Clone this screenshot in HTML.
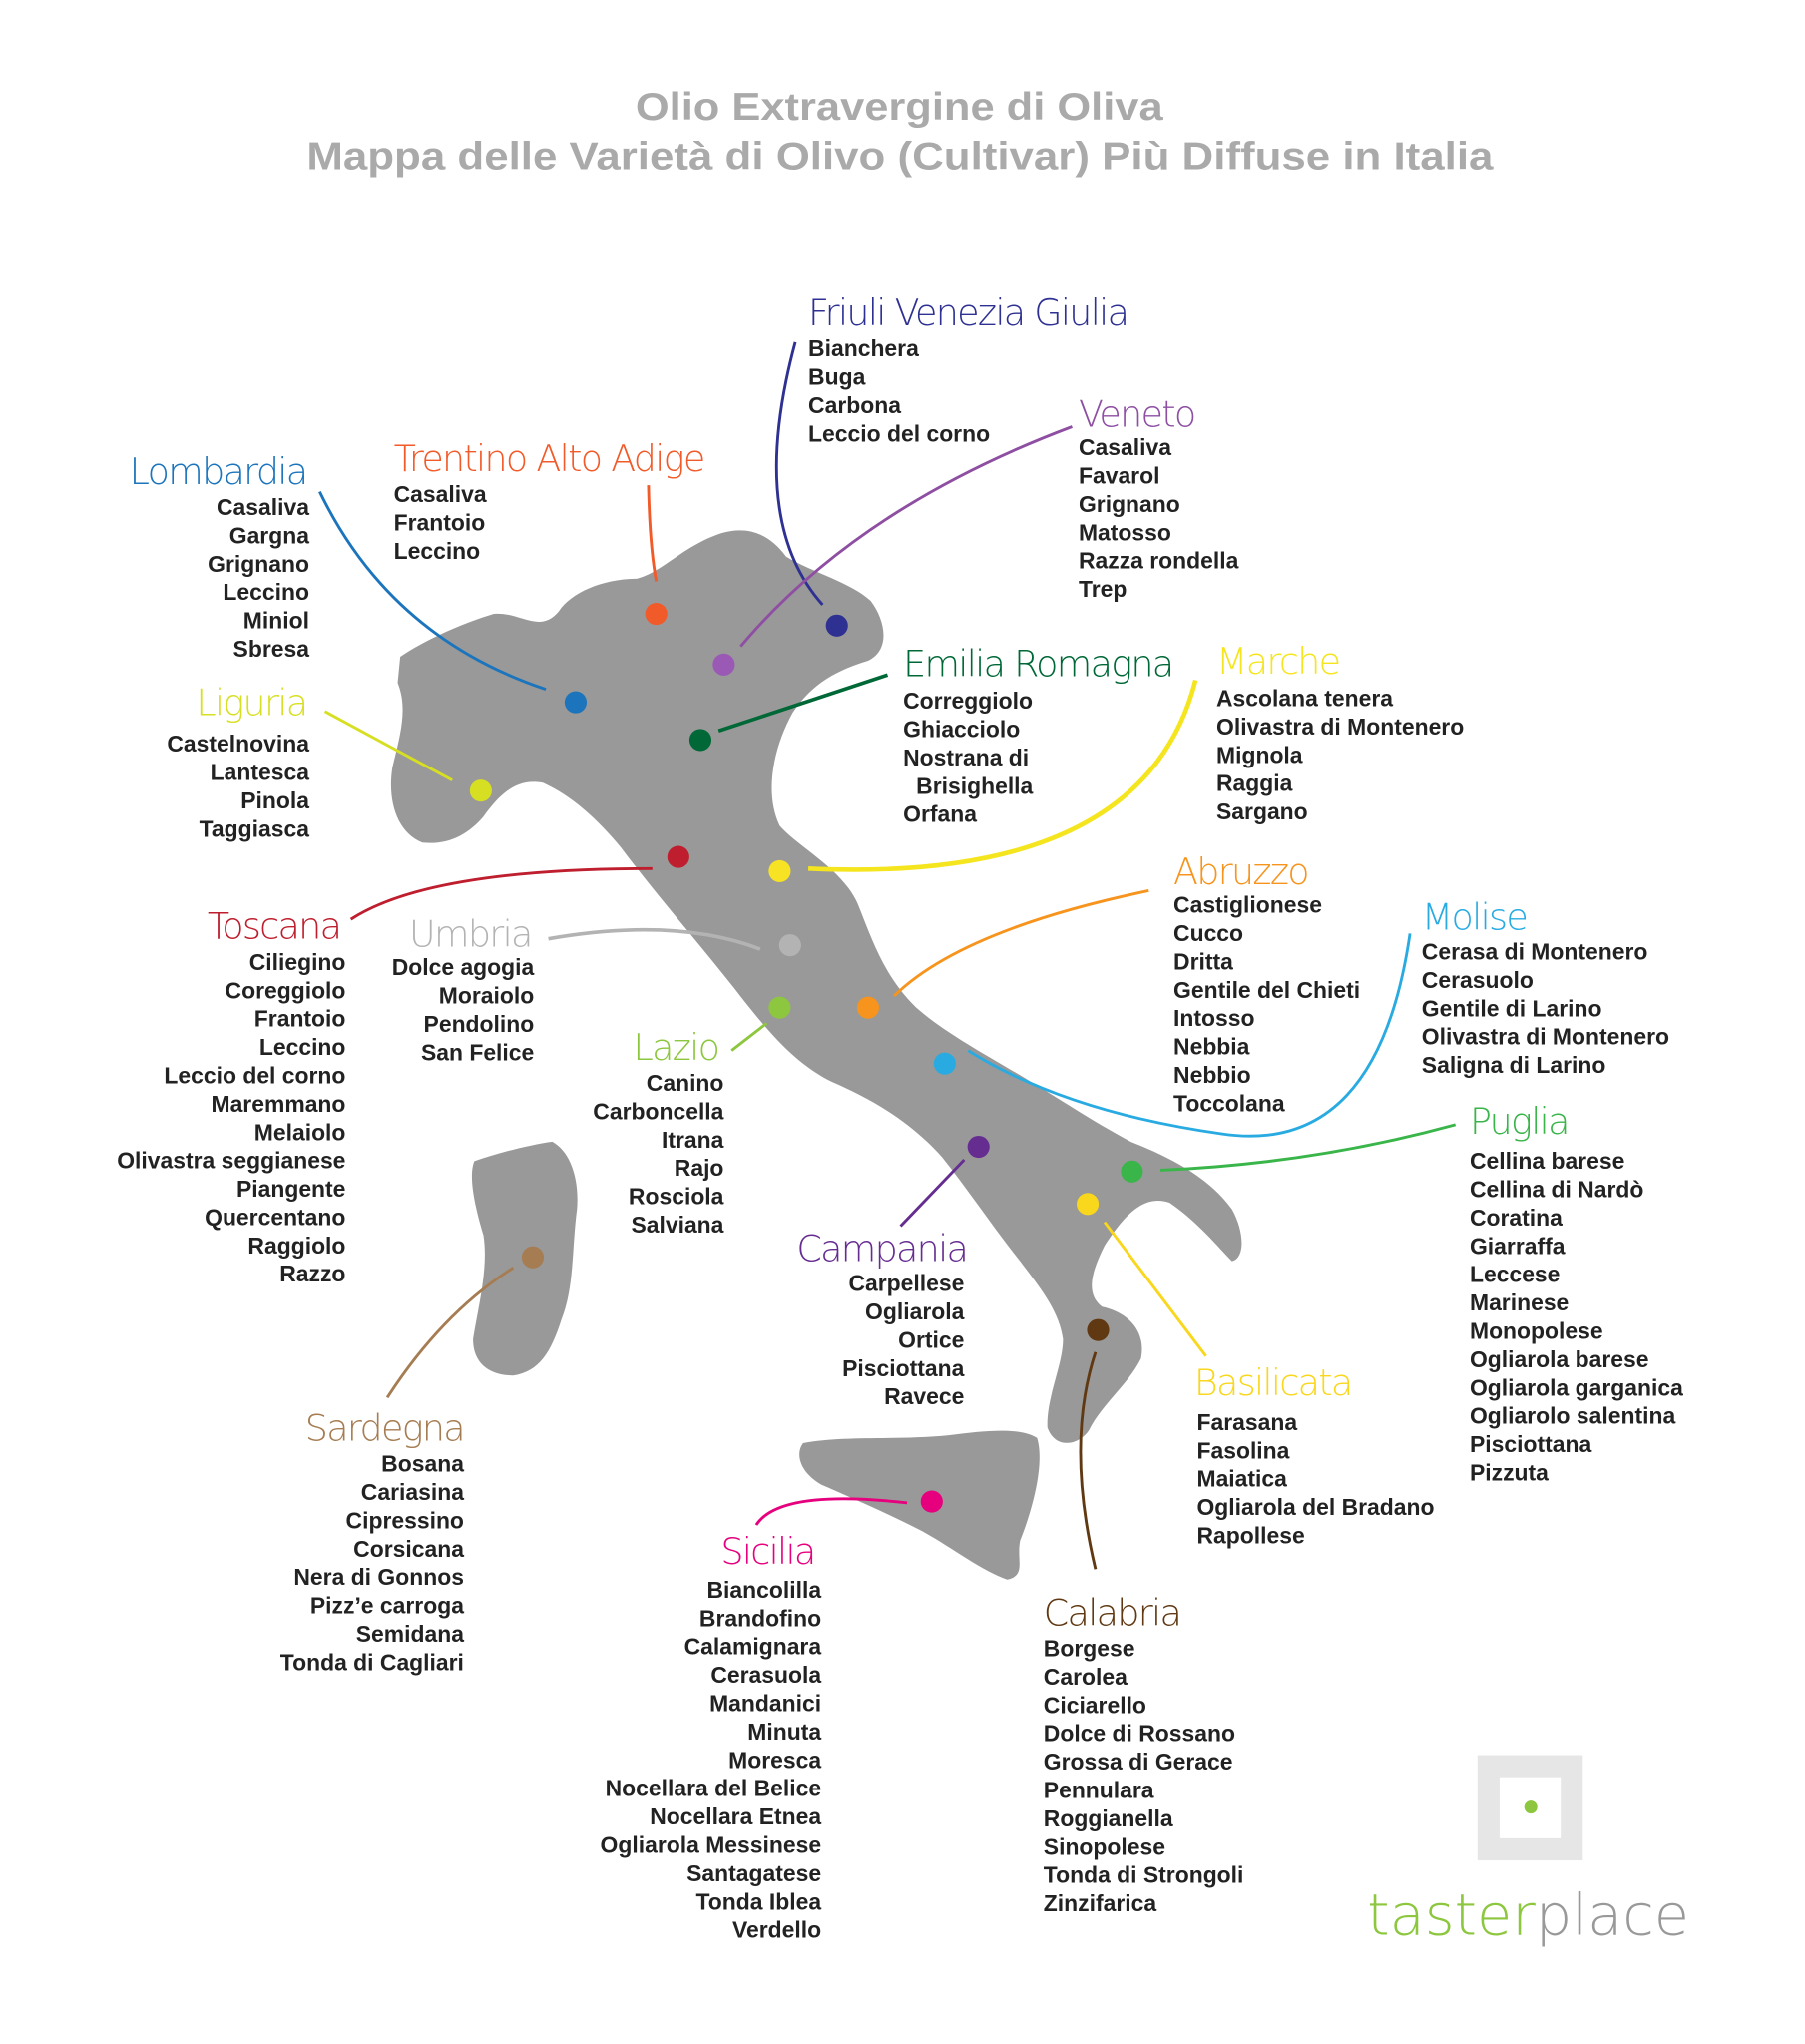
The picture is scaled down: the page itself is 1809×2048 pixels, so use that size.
<!DOCTYPE html>
<html><head><meta charset="utf-8"><style>
html,body{margin:0;padding:0;background:#fff;width:1809px;height:2048px;overflow:hidden}
svg{display:block}
.t{font-family:"Liberation Sans",sans-serif;font-weight:bold;font-size:17.6px;fill:#222}
.h{font-family:"DejaVu Sans","Liberation Sans",sans-serif;font-weight:200;font-size:28px;letter-spacing:-1.3px}
.ti{font-family:"Liberation Sans",sans-serif;font-weight:bold;font-size:30px;fill:#aaaaaa}
.r{text-anchor:end}
</style></head><body>
<svg width="1809" height="2048" viewBox="0 0 1389 1572" xmlns="http://www.w3.org/2000/svg">
<text class="ti" x="489" y="92" textLength="406" lengthAdjust="spacingAndGlyphs">Olio Extravergine di Oliva</text>
<text class="ti" x="236" y="130" textLength="913" lengthAdjust="spacingAndGlyphs">Mappa delle Varietà di Olivo (Cultivar) Più Diffuse in Italia</text>

<g fill="#999999">
<path d="M308,505 C330,490 360,478 380,472 C400,470 415,488 430,470 C440,455 465,445 490,445 C510,440 525,420 555,410 C575,404 592,410 605,428 C625,440 655,448 670,462 C682,478 685,500 668,508 C645,515 625,525 610,548 C595,575 588,610 600,635 C615,652 648,668 660,695 C672,725 680,750 705,775 C728,795 760,812 790,830 C815,845 840,862 870,878 C900,890 930,905 948,930 C958,948 958,968 948,970 C938,960 922,940 900,925 C880,918 865,935 850,958 C840,978 835,995 848,1005 C870,1010 882,1025 878,1045 C868,1065 848,1080 838,1100 C830,1112 812,1115 806,1098 C805,1075 818,1050 818,1030 C815,1008 800,990 785,970 C765,945 745,915 725,890 C700,862 670,845 640,832 C612,818 592,795 565,760 C535,722 505,688 478,652 C460,630 440,612 418,602 C398,598 385,610 372,628 C360,642 345,650 325,648 C305,640 298,615 302,590 C308,565 314,545 306,525 Z"/>
<path d="M365,893 C385,886 410,880 425,878 C438,885 446,905 444,930 C440,960 442,990 432,1015 C424,1040 415,1055 395,1058 C378,1058 364,1050 364,1030 C368,1005 376,975 372,950 C366,930 360,905 365,893 Z"/>
<path d="M618,1110 C650,1104 690,1108 730,1104 C760,1100 785,1098 798,1106 C804,1125 795,1160 785,1185 C782,1200 790,1212 775,1215 C755,1208 735,1192 710,1178 C685,1165 655,1152 632,1142 C615,1132 612,1118 618,1110 Z"/>
</g>

<g fill="none" stroke-width="2.2">
<path d="M246,378 Q300,490 420,530" stroke="#1c75bc"/>
<path d="M499,373 Q500,420 505,447" stroke="#f15a29"/>
<path d="M612,263 Q575,400 633,465" stroke="#2e3192"/>
<path d="M825,328 Q660,390 570,497" stroke="#8e4fa3"/>
<path d="M683,519 L553,562" stroke="#006837" stroke-width="2.8"/>
<path d="M250,547 L348,600" stroke="#d7df23"/>
<path d="M920,523 Q880,680 622,668" stroke="#f5e51e" stroke-width="3.5"/>
<path d="M270,707 Q330,668 502,668" stroke="#be1e2d"/>
<path d="M422,722 Q520,705 585,730" stroke="#b3b3b3" stroke-width="2.8"/>
<path d="M563,808 L590,787" stroke="#8dc63f"/>
<path d="M884,685 Q740,715 688,766" stroke="#f7941d"/>
<path d="M1085,718 Q1060,890 940,872 Q820,855 745,808" stroke="#29abe2"/>
<path d="M693,943 L742,892" stroke="#662d91"/>
<path d="M1120,865 Q1010,895 893,900" stroke="#39b54a"/>
<path d="M928,1043 L850,940" stroke="#f9d71c"/>
<path d="M843,1040 Q820,1110 843,1207" stroke="#603913"/>
<path d="M298,1075 Q340,1010 395,975" stroke="#a67c52"/>
<path d="M582,1173 Q600,1145 698,1156" stroke="#e6007e"/>
</g>

<g>
<circle cx="505" cy="472" r="8.5" fill="#f15a29"/>
<circle cx="644" cy="481" r="8.5" fill="#2e3192"/>
<circle cx="557" cy="511" r="8.5" fill="#9b59b6"/>
<circle cx="443" cy="540" r="8.5" fill="#1c75bc"/>
<circle cx="539" cy="569" r="8.5" fill="#006837"/>
<circle cx="370" cy="608" r="8.5" fill="#d7df23"/>
<circle cx="522" cy="659" r="8.5" fill="#be1e2d"/>
<circle cx="600" cy="670" r="8.5" fill="#f7e324"/>
<circle cx="608" cy="727" r="8.5" fill="#b3b3b3"/>
<circle cx="600" cy="775" r="8.5" fill="#8dc63f"/>
<circle cx="668" cy="775" r="8.5" fill="#f7941d"/>
<circle cx="727" cy="818" r="8.5" fill="#29abe2"/>
<circle cx="753" cy="882" r="8.5" fill="#662d91"/>
<circle cx="871" cy="901" r="8.5" fill="#39b54a"/>
<circle cx="837" cy="926" r="8.5" fill="#f9d71c"/>
<circle cx="845" cy="1023" r="8.5" fill="#603913"/>
<circle cx="410" cy="967" r="8.5" fill="#a67c52"/>
<circle cx="717" cy="1155" r="8.5" fill="#e6007e"/>
</g>

<!-- headings -->
<text class="h r" x="236" y="372" fill="#1c75bc">Lombardia</text>
<text class="h" x="303" y="362" fill="#f15a29">Trentino Alto Adige</text>
<text class="h" x="622" y="250" fill="#2e3192">Friuli Venezia Giulia</text>
<text class="h" x="830" y="328" fill="#8e4fa3">Veneto</text>
<text class="h" x="695" y="520" fill="#006837">Emilia Romagna</text>
<text class="h" x="936" y="518" fill="#f5e51e">Marche</text>
<text class="h r" x="236" y="550" fill="#d7df23">Liguria</text>
<text class="h r" x="262" y="722" fill="#be1e2d">Toscana</text>
<text class="h r" x="409" y="728" fill="#b3b3b3">Umbria</text>
<text class="h r" x="553" y="815" fill="#8dc63f">Lazio</text>
<text class="h" x="903" y="680" fill="#f7941d">Abruzzo</text>
<text class="h" x="1094" y="715" fill="#29abe2">Molise</text>
<text class="h" x="613" y="970" fill="#662d91">Campania</text>
<text class="h" x="1131" y="872" fill="#39b54a">Puglia</text>
<text class="h" x="919" y="1073" fill="#f9d71c">Basilicata</text>
<text class="h r" x="357" y="1108" fill="#a67c52">Sardegna</text>
<text class="h r" x="627" y="1203" fill="#e6007e">Sicilia</text>
<text class="h" x="803" y="1250" fill="#603913">Calabria</text>

<!-- lists -->
<text class="t r"><tspan x="238" y="396">Casaliva</tspan><tspan x="238" dy="21.8">Gargna</tspan><tspan x="238" dy="21.8">Grignano</tspan><tspan x="238" dy="21.8">Leccino</tspan><tspan x="238" dy="21.8">Miniol</tspan><tspan x="238" dy="21.8">Sbresa</tspan></text>
<text class="t"><tspan x="303" y="386">Casaliva</tspan><tspan x="303" dy="21.8">Frantoio</tspan><tspan x="303" dy="21.8">Leccino</tspan></text>
<text class="t"><tspan x="622" y="274">Bianchera</tspan><tspan x="622" dy="21.8">Buga</tspan><tspan x="622" dy="21.8">Carbona</tspan><tspan x="622" dy="21.8">Leccio del corno</tspan></text>
<text class="t"><tspan x="830" y="350">Casaliva</tspan><tspan x="830" dy="21.8">Favarol</tspan><tspan x="830" dy="21.8">Grignano</tspan><tspan x="830" dy="21.8">Matosso</tspan><tspan x="830" dy="21.8">Razza rondella</tspan><tspan x="830" dy="21.8">Trep</tspan></text>
<text class="t"><tspan x="695" y="545">Correggiolo</tspan><tspan x="695" dy="21.8">Ghiacciolo</tspan><tspan x="695" dy="21.8">Nostrana di</tspan><tspan x="705" dy="21.8">Brisighella</tspan><tspan x="695" dy="21.8">Orfana</tspan></text>
<text class="t"><tspan x="936" y="543">Ascolana tenera</tspan><tspan x="936" dy="21.8">Olivastra di Montenero</tspan><tspan x="936" dy="21.8">Mignola</tspan><tspan x="936" dy="21.8">Raggia</tspan><tspan x="936" dy="21.8">Sargano</tspan></text>
<text class="t r"><tspan x="238" y="578">Castelnovina</tspan><tspan x="238" dy="21.8">Lantesca</tspan><tspan x="238" dy="21.8">Pinola</tspan><tspan x="238" dy="21.8">Taggiasca</tspan></text>
<text class="t r"><tspan x="266" y="746">Ciliegino</tspan><tspan x="266" dy="21.8">Coreggiolo</tspan><tspan x="266" dy="21.8">Frantoio</tspan><tspan x="266" dy="21.8">Leccino</tspan><tspan x="266" dy="21.8">Leccio del corno</tspan><tspan x="266" dy="21.8">Maremmano</tspan><tspan x="266" dy="21.8">Melaiolo</tspan><tspan x="266" dy="21.8">Olivastra seggianese</tspan><tspan x="266" dy="21.8">Piangente</tspan><tspan x="266" dy="21.8">Quercentano</tspan><tspan x="266" dy="21.8">Raggiolo</tspan><tspan x="266" dy="21.8">Razzo</tspan></text>
<text class="t r"><tspan x="411" y="750">Dolce agogia</tspan><tspan x="411" dy="21.8">Moraiolo</tspan><tspan x="411" dy="21.8">Pendolino</tspan><tspan x="411" dy="21.8">San Felice</tspan></text>
<text class="t r"><tspan x="557" y="839">Canino</tspan><tspan x="557" dy="21.8">Carboncella</tspan><tspan x="557" dy="21.8">Itrana</tspan><tspan x="557" dy="21.8">Rajo</tspan><tspan x="557" dy="21.8">Rosciola</tspan><tspan x="557" dy="21.8">Salviana</tspan></text>
<text class="t"><tspan x="903" y="702">Castiglionese</tspan><tspan x="903" dy="21.8">Cucco</tspan><tspan x="903" dy="21.8">Dritta</tspan><tspan x="903" dy="21.8">Gentile del Chieti</tspan><tspan x="903" dy="21.8">Intosso</tspan><tspan x="903" dy="21.8">Nebbia</tspan><tspan x="903" dy="21.8">Nebbio</tspan><tspan x="903" dy="21.8">Toccolana</tspan></text>
<text class="t"><tspan x="1094" y="738">Cerasa di Montenero</tspan><tspan x="1094" dy="21.8">Cerasuolo</tspan><tspan x="1094" dy="21.8">Gentile di Larino</tspan><tspan x="1094" dy="21.8">Olivastra di Montenero</tspan><tspan x="1094" dy="21.8">Saligna di Larino</tspan></text>
<text class="t r"><tspan x="742" y="993">Carpellese</tspan><tspan x="742" dy="21.8">Ogliarola</tspan><tspan x="742" dy="21.8">Ortice</tspan><tspan x="742" dy="21.8">Pisciottana</tspan><tspan x="742" dy="21.8">Ravece</tspan></text>
<text class="t"><tspan x="1131" y="899">Cellina barese</tspan><tspan x="1131" dy="21.8">Cellina di Nardò</tspan><tspan x="1131" dy="21.8">Coratina</tspan><tspan x="1131" dy="21.8">Giarraffa</tspan><tspan x="1131" dy="21.8">Leccese</tspan><tspan x="1131" dy="21.8">Marinese</tspan><tspan x="1131" dy="21.8">Monopolese</tspan><tspan x="1131" dy="21.8">Ogliarola barese</tspan><tspan x="1131" dy="21.8">Ogliarola garganica</tspan><tspan x="1131" dy="21.8">Ogliarolo salentina</tspan><tspan x="1131" dy="21.8">Pisciottana</tspan><tspan x="1131" dy="21.8">Pizzuta</tspan></text>
<text class="t"><tspan x="921" y="1100">Farasana</tspan><tspan x="921" dy="21.8">Fasolina</tspan><tspan x="921" dy="21.8">Maiatica</tspan><tspan x="921" dy="21.8">Ogliarola del Bradano</tspan><tspan x="921" dy="21.8">Rapollese</tspan></text>
<text class="t r"><tspan x="357" y="1132">Bosana</tspan><tspan x="357" dy="21.8">Cariasina</tspan><tspan x="357" dy="21.8">Cipressino</tspan><tspan x="357" dy="21.8">Corsicana</tspan><tspan x="357" dy="21.8">Nera di Gonnos</tspan><tspan x="357" dy="21.8">Pizz’e carroga</tspan><tspan x="357" dy="21.8">Semidana</tspan><tspan x="357" dy="21.8">Tonda di Cagliari</tspan></text>
<text class="t r"><tspan x="632" y="1229">Biancolilla</tspan><tspan x="632" dy="21.8">Brandofino</tspan><tspan x="632" dy="21.8">Calamignara</tspan><tspan x="632" dy="21.8">Cerasuola</tspan><tspan x="632" dy="21.8">Mandanici</tspan><tspan x="632" dy="21.8">Minuta</tspan><tspan x="632" dy="21.8">Moresca</tspan><tspan x="632" dy="21.8">Nocellara del Belice</tspan><tspan x="632" dy="21.8">Nocellara Etnea</tspan><tspan x="632" dy="21.8">Ogliarola Messinese</tspan><tspan x="632" dy="21.8">Santagatese</tspan><tspan x="632" dy="21.8">Tonda Iblea</tspan><tspan x="632" dy="21.8">Verdello</tspan></text>
<text class="t"><tspan x="803" y="1274">Borgese</tspan><tspan x="803" dy="21.8">Carolea</tspan><tspan x="803" dy="21.8">Ciciarello</tspan><tspan x="803" dy="21.8">Dolce di Rossano</tspan><tspan x="803" dy="21.8">Grossa di Gerace</tspan><tspan x="803" dy="21.8">Pennulara</tspan><tspan x="803" dy="21.8">Roggianella</tspan><tspan x="803" dy="21.8">Sinopolese</tspan><tspan x="803" dy="21.8">Tonda di Strongoli</tspan><tspan x="803" dy="21.8">Zinzifarica</tspan></text>

<!-- logo -->
<rect x="1137" y="1350" width="81" height="81" fill="#e6e6e6"/>
<rect x="1154" y="1367" width="47" height="47" fill="#fff"/>
<circle cx="1178" cy="1390" r="5" fill="#8dc63f"/>
<text x="1052" y="1488" style="font-family:'DejaVu Sans',sans-serif;font-weight:200;font-size:44px" textLength="248" lengthAdjust="spacingAndGlyphs"><tspan fill="#8dc63f">taster</tspan><tspan fill="#999">place</tspan></text>
</svg>
</body></html>
